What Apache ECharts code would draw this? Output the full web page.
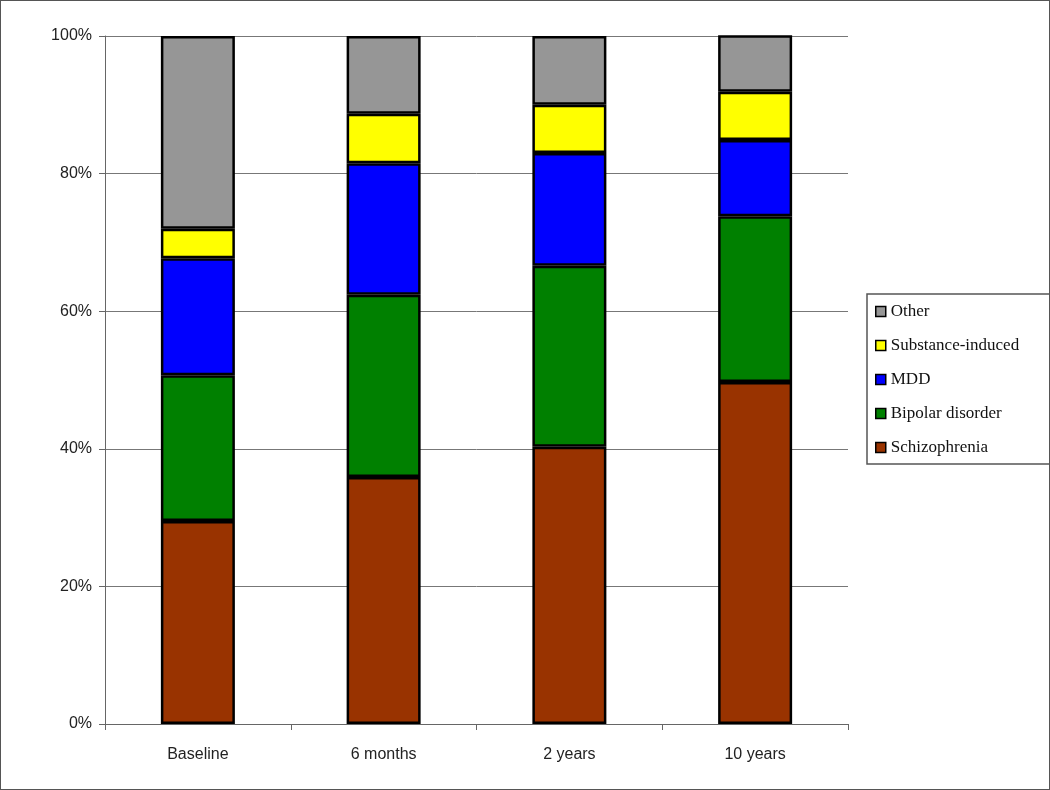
<!DOCTYPE html>
<html><head><meta charset="utf-8">
<script src="https://cdn.jsdelivr.net/npm/echarts@6/dist/echarts.min.js"></script>
<style>
html,body{margin:0;padding:0;background:#fff;overflow:hidden;}
#c{width:1048px;height:788px;border:1px solid #555;}
</style></head>
<body><div id="c"></div>
<script>
const categories = ['Baseline', '6 months', '2 years', '10 years'];
const schizophrenia = [29.5, 35.9, 40.3, 49.7];
const bipolar = [21.2, 26.5, 26.3, 24.1];
const mdd = [17.0, 19.1, 16.4, 11.1];
const substance = [4.3, 7.2, 7.0, 7.0];
const other = [28.0, 11.3, 10.0, 8.2];
const yTicks = [0, 20, 40, 60, 80, 100];

const seriesDefs = [
  {name: 'Schizophrenia', data: schizophrenia, color: '#993300'},
  {name: 'Bipolar disorder', data: bipolar, color: '#008000'},
  {name: 'MDD', data: mdd, color: '#0000ff'},
  {name: 'Substance-induced', data: substance, color: '#ffff00'},
  {name: 'Other', data: other, color: '#969696'}
];

const chart = echarts.init(document.getElementById('c'));
chart.setOption({
  animation: false,
  backgroundColor: '#fff',
  grid: {left: 104, right: 201, top: 35, bottom: 65, containLabel: false},
  legend: {
    orient: 'vertical',
    left: 866, top: 293,
    data: ['Other', 'Substance-induced', 'MDD', 'Bipolar disorder', 'Schizophrenia'],
    itemWidth: 10, itemHeight: 10, itemGap: 17,
    icon: 'rect',
    padding: [9, 80, 8, 8],
    borderColor: '#555', borderWidth: 1.5,
    textStyle: {fontFamily: 'Liberation Serif', fontSize: 17, color: '#111', lineHeight: 17},
    itemStyle: {borderColor: '#000', borderWidth: 1.5}
  },
  xAxis: {
    type: 'category', data: categories,
    axisLine: {lineStyle: {color: '#666', width: 1}},
    axisTick: {show: true, length: 6, lineStyle: {color: '#666'}},
    axisLabel: {fontFamily: 'Liberation Sans', fontSize: 16, color: '#222', margin: 23}
  },
  yAxis: {
    type: 'value', min: 0, max: 100, interval: 20,
    axisLine: {show: true, lineStyle: {color: '#666'}},
    axisTick: {show: true, length: 6, lineStyle: {color: '#666'}},
    splitLine: {lineStyle: {color: '#777', width: 1}},
    axisLabel: {fontFamily: 'Liberation Sans', fontSize: 16, color: '#222', margin: 13,
      formatter: v => yTicks.includes(v) ? v + '%' : ''}
  },
  series: seriesDefs.map(s => ({
    name: s.name, type: 'bar', stack: 'total', data: s.data,
    barWidth: 74,
    itemStyle: {color: s.color, borderColor: '#000', borderWidth: 2.5}
  }))
});
</script></body></html>
